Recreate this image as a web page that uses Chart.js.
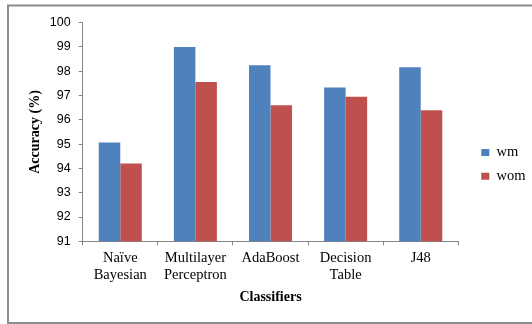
<!DOCTYPE html>
<html>
<head>
<meta charset="utf-8">
<script src="https://cdn.jsdelivr.net/npm/chart.js@4/dist/chart.umd.min.js"></script>
<style>
  html, body { margin: 0; padding: 0; background: #fff; }
</style>
</head>
<body>
<canvas id="myChart" width="532" height="324"></canvas>
<script>
// values
const classifiers = [["Naïve", "Bayesian"], ["Multilayer", "Perceptron"], "AdaBoost", ["Decision", "Table"], "J48"];
const wmValues = [95.07, 99.0, 98.25, 97.33, 98.17];
const womValues = [94.2, 97.56, 96.6, 96.95, 96.4];
const yMin = 91;
const yMax = 100;
const yStep = 1;

const serif = "'Liberation Serif', 'Times New Roman', serif";
const sans = "'Liberation Sans', Arial, sans-serif";

// grey frame round the whole picture
const framePlugin = {
  id: "frame",
  beforeDraw(chart) {
    const ctx = chart.ctx;
    ctx.save();
    ctx.fillStyle = "#fff";
    ctx.fillRect(0, 0, chart.width, chart.height);
    ctx.strokeStyle = "#8c8c8c";
    ctx.lineWidth = 2;
    ctx.strokeRect(8, 5.5, 530, 317.5);
    ctx.restore();
  },
};

const ctx = document.getElementById("myChart").getContext("2d");

new Chart(ctx, {
  type: "bar",
  data: {
    labels: classifiers,
    datasets: [
      {
        label: "wm",
        data: wmValues,
        backgroundColor: "#4f81bd",
        borderWidth: 0,
      },
      {
        label: "wom",
        data: womValues,
        backgroundColor: "#c0504d",
        borderWidth: 0,
      },
    ],
  },
  options: {
    responsive: false,
    animation: false,
    categoryPercentage: 0.573,
    barPercentage: 1,
    layout: {
      padding: { left: 10, top: 22.7, right: 0, bottom: 17.9 },
    },
    plugins: {
      tooltip: { enabled: false },
      legend: {
        position: "right",
        align: "center",
        maxWidth: 60,
        labels: {
          boxWidth: 8,
          boxHeight: 7,
          padding: 9.3,
          color: "#000",
          font: { family: serif, size: 14.5 },
        },
      },
    },
    scales: {
      x: {
        grid: {
          display: true,
          drawOnChartArea: false,
          drawTicks: true,
          tickLength: 4,
          color: "#868686",
          offset: true,
        },
        border: { color: "#868686", width: 1 },
        ticks: {
          color: "#000",
          padding: 4.6,
          maxRotation: 0,
          font: { family: serif, size: 14.5, lineHeight: 1.15 },
        },
        title: {
          display: true,
          text: "Classifiers",
          color: "#000",
          font: { family: serif, size: 14, weight: "bold", lineHeight: 1.2 },
          padding: { top: 0, bottom: 0.7 },
        },
        afterFit: (scale) => {
          scale.height = 64.8;
        },
      },
      y: {
        min: yMin,
        max: yMax,
        grid: {
          display: true,
          drawOnChartArea: false,
          drawTicks: true,
          tickLength: 4,
          color: "#868686",
        },
        border: { color: "#868686", width: 1 },
        ticks: {
          stepSize: yStep,
          color: "#000",
          padding: 8,
          font: { family: sans, size: 12.5 },
        },
        title: {
          display: true,
          text: "Accuracy (%)",
          color: "#000",
          font: { family: serif, size: 14, weight: "bold", lineHeight: 1.2 },
          padding: { top: 16.6, bottom: 0 },
        },
        afterFit: (scale) => {
          scale.width = 72.7;
        },
      },
      // empty axis only used to leave the gap before the legend
      gap: {
        type: "linear",
        position: "right",
        display: true,
        grid: { display: false },
        border: { display: false },
        ticks: { display: false },
        afterFit: (scale) => {
          scale.width = 13.7;
        },
      },
    },
  },
  plugins: [framePlugin],
});
</script>
</body>
</html>
